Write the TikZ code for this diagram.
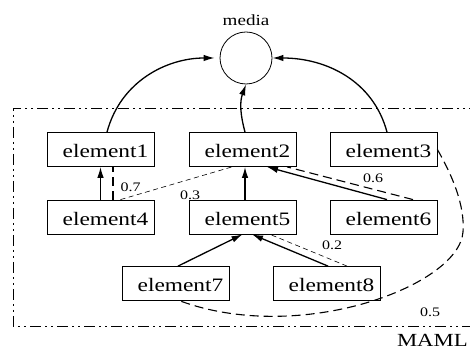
\documentclass[tikz,border=0pt]{standalone}
\usepackage{fontspec}
\setmainfont{Liberation Serif}[FakeStretch=1.23]
\usetikzlibrary{arrows.meta}
\begin{document}
\begin{tikzpicture}[x=1pt,y=1pt,
 elem/.style={draw, line width=0.8pt, minimum width=107pt, minimum height=34pt, inner sep=0pt,
   text height=17pt, text depth=0pt, font=\fontsize{19}{21}\selectfont},
 arr/.style={line width=1.3pt, -{Latex[length=11pt,width=6.5pt]}},
 thickdash/.style={line width=1.1pt, dash pattern=on 9pt off 5pt},
 thindash/.style={line width=0.6pt, dash pattern=on 5pt off 3.5pt},
 lbl/.style={font=\fontsize{13}{15}\selectfont, inner sep=0pt},
 frame/.style={line width=0.9pt, dash pattern=on 11pt off 4pt on 2pt off 4pt on 2pt off 4pt}]
\path[use as bounding box] (0,0) rectangle (470,352);
\clip (0,0) rectangle (470,352);
% frame
\draw[frame] (480,244) -- (13,244) -- (13,26) -- (480,26);
\node[anchor=east, inner sep=0pt, font=\fontsize{18.5}{20}\selectfont] (maml) at (468,12) {MAML};
% media
\node[draw, circle, line width=0.8pt, minimum size=52pt, inner sep=0pt] (media) at (246,294) {};
\node[inner sep=0pt, font=\fontsize{15.5}{17}\selectfont] (medialbl) at (246,332) {media};
% elements
\node[elem] (e1) at (100.5,202.5) {\hspace*{10pt}element1};
\node[elem] (e2) at (242.5,202.5) {\hspace*{10pt}element2};
\node[elem] (e3) at (383.5,202.5) {\hspace*{10pt}element3};
\node[elem] (e4) at (100.5,135) {\hspace*{10pt}element4};
\node[elem] (e5) at (242.5,135) {\hspace*{10pt}element5};
\node[elem] (e6) at (383.5,135) {\hspace*{10pt}element6};
\node[elem] (e7) at (175.5,68.5) {\hspace*{10pt}element7};
\node[elem] (e8) at (326.5,68.5) {\hspace*{10pt}element8};
% to media
\draw[arr, shorten >=5pt] ([xshift=6.5pt]e1.north) to[out=75,in=180] (media.west);
\draw[arr] ([xshift=3.5pt]e3.north) to[out=105,in=0] (media.east);
\draw[arr] ([xshift=2.5pt]e2.north) to[out=105,in=-110] (media.south);
% row 2 to row 1
\draw[arr] (e4.north) -- (e1.south);
\draw[thickdash] ([xshift=12.5pt]e4.north) -- ([xshift=12.5pt]e1.south);
\draw[thindash] ([xshift=20pt]e4.north) -- ([xshift=-10.5pt]e2.south);
\node[lbl] (l07) at (130.5,164.5) {0.7};
\node[lbl] (l03) at (190,157) {0.3};
\draw[arr] ([xshift=2.5pt]e5.north) -- ([xshift=2.5pt]e2.south);
\draw[arr] ([xshift=3.5pt]e6.north) -- ([xshift=24.5pt]e2.south);
\draw[thickdash] ([xshift=29.5pt]e6.north) -- ([xshift=44.5pt]e2.south);
\node[lbl] (l06) at (373,174) {0.6};
% row 3 to row 2
\draw[arr] ([xshift=2.5pt]e7.north) -- (e5.south);
\draw[arr] ([xshift=1.5pt]e8.north) -- ([xshift=9.5pt]e5.south);
\draw[thindash] ([xshift=20.5pt]e8.north) -- ([xshift=27.5pt]e5.south);
\node[lbl] (l02) at (332,107) {0.2};
% big dashed curve
\coordinate (m) at (463,120);
\draw[thickdash] (e3.east) .. controls (452,177) and (465,147) .. (m)
  .. controls (459,66) and (300,7) .. ([xshift=4.5pt]e7.south);
\node[lbl] (l05) at (430,40) {0.5};
\end{tikzpicture}
\end{document}
